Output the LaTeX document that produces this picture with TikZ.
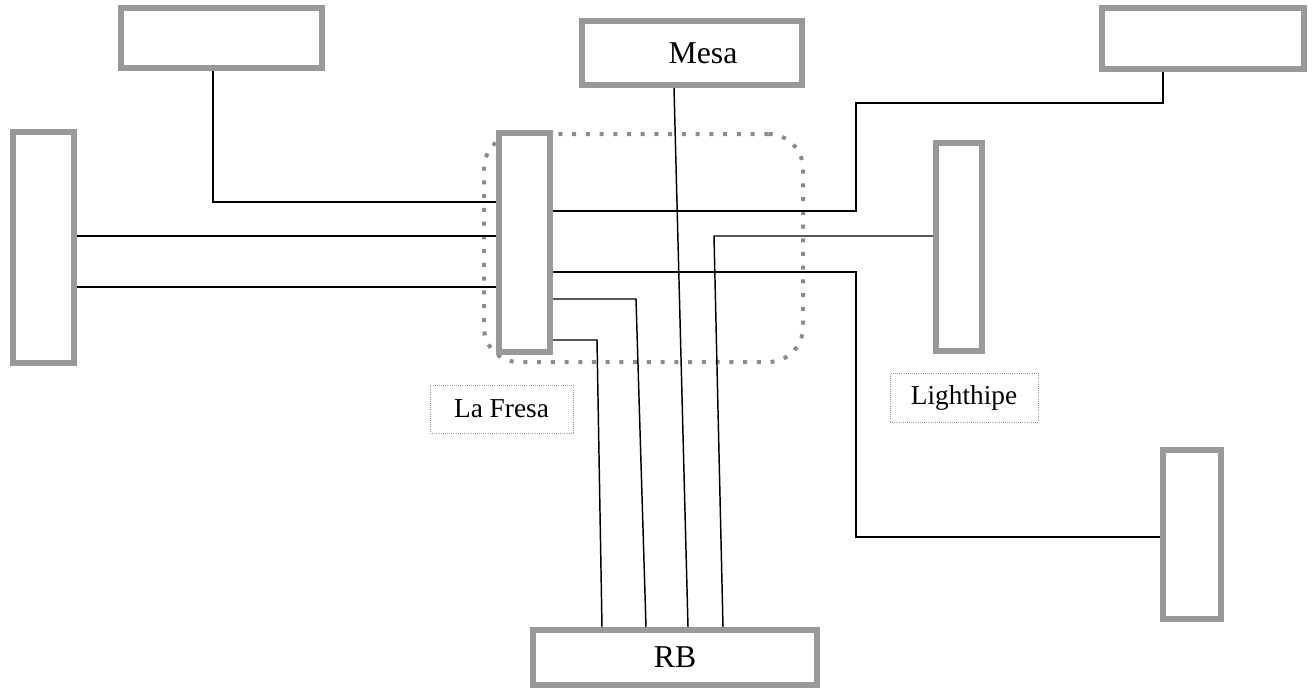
\documentclass[tikz,border=0pt]{standalone}
\usepackage{fontspec}
\setmainfont{Liberation Serif}
\definecolor{bx}{gray}{0.6}
\definecolor{dotc}{gray}{0.55}
\begin{document}
\begin{tikzpicture}[x=0.75pt,y=-0.75pt,
  gbox/.style={draw=bx,line width=4.5pt,fill=white,inner sep=0pt},
  lbl/.style={draw=bx,densely dotted,line width=0.6pt,inner sep=0pt,font=\fontsize{20.5}{24}\selectfont},
  wire/.style={draw=black,line width=1.1pt},
  big/.style={font=\fontsize{23.8}{28}\selectfont}]
\useasboundingbox (0,0) rectangle (1315,689);
% dotted group
\node[draw=dotc,line width=3pt,dash pattern=on 3pt off 7.3pt,rounded corners=26pt,
      minimum width=239.25pt,minimum height=171pt,inner sep=0pt] (grp) at (643.5,248) {};
% boxes (placed first so anchors exist; wires drawn on background via order below)
\begin{scope}[on background layer/.style={}]
\end{scope}
\node[gbox,minimum width=150.75pt,minimum height=45pt] (tl) at (221.5,38) {};
\node[gbox,minimum width=45.75pt,minimum height=173.25pt] (lt) at (43.5,247.5) {};
\node[gbox,minimum width=165pt,minimum height=48pt] (mesa) at (692,53) {};
\node[gbox,minimum width=151.5pt,minimum height=45.75pt] (tr) at (1203,38.5) {};
\node[gbox,minimum width=38.25pt,minimum height=164.25pt] (fresa) at (524.5,242.5) {};
\node[gbox,minimum width=34.5pt,minimum height=156pt] (lh) at (959,247) {};
\node[gbox,minimum width=43.5pt,minimum height=126.75pt] (br) at (1192,534.5) {};
\node[gbox,minimum width=213pt,minimum height=41.25pt,big] (rb) at (675,657.5) {RB};
\node[big,inner sep=0pt] (mesaT) at (703,53) {Mesa};
\node[lbl,minimum width=107.25pt,minimum height=36pt] (fresaL) at (501.5,409) {La Fresa};
\node[lbl,minimum width=111pt,minimum height=36.75pt] (lhL) at (964,397.5) {Lighthipe};
% bend points
\coordinate (p1) at (213,202);
\coordinate (p2) at (0,236);
\coordinate (p3) at (0,287);
\coordinate (p4a) at (856,211);
\coordinate (p4b) at (1163,103);
\coordinate (p5a) at (856,272);
\coordinate (p5b) at (856,537);
\coordinate (p6a) at (714,236);
\coordinate (p6b) at (723,0);
\coordinate (p7a) at (674,0);
\coordinate (p7b) at (688,0);
\coordinate (p8a) at (636,299);
\coordinate (p8b) at (646,0);
\coordinate (p9a) at (597,340);
\coordinate (p9b) at (602,0);
% wires
\draw[wire] (tl.south -| p1) |- (fresa.west |- p1);
\draw[wire] (lt.east |- p2) -- (fresa.west |- p2);
\draw[wire] (lt.east |- p3) -- (fresa.west |- p3);
\draw[wire] (fresa.east |- p4a) -- (p4a) |- (p4b) -- (tr.south -| p4b);
\draw[wire] (fresa.east |- p5a) -- (p5a) -- (p5b) -- (br.west |- p5b);
\draw[wire] (lh.west |- p6a) -- (p6a) -- (rb.north -| p6b);
\draw[wire] (mesa.south -| p7a) -- (rb.north -| p7b);
\draw[wire] (fresa.east |- p8a) -- (p8a) -- (rb.north -| p8b);
\draw[wire] (fresa.east |- p9a) -- (p9a) -- (rb.north -| p9b);
\end{tikzpicture}
\end{document}
